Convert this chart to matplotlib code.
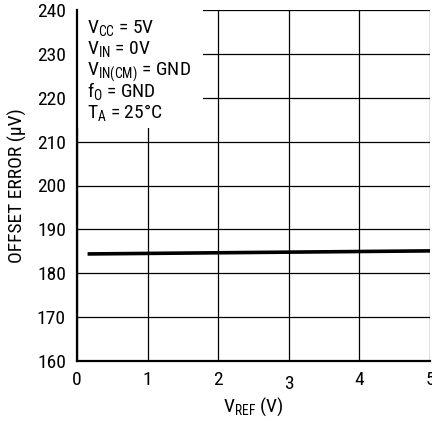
import matplotlib
matplotlib.use("Agg")
import matplotlib.pyplot as plt
from matplotlib.patches import Rectangle

FONT = 'Roboto Condensed'
plt.rcParams['font.family'] = [FONT, 'DejaVu Sans']
plt.rcParams['mathtext.fontset'] = 'custom'
plt.rcParams['mathtext.rm'] = FONT

vref = [0.15, 5.0]
offset = [184.4, 185.1]
x_ticks = [0, 1, 2, 3, 4, 5]
y_ticks = [160, 170, 180, 190, 200, 210, 220, 230, 240]
FS = 14

fig = plt.figure(figsize=(4.32, 4.21), dpi=100)
ax = fig.add_axes([77/432, 1 - 361/421, 353/432, 351/421])
ax.set_xlim(0, 5)
ax.set_ylim(160, 240)
ax.set_xticks(x_ticks)
ax.set_yticks(y_ticks)
ax.grid(True, color='black', linewidth=0.9)
ax.set_axisbelow(True)
for s in ax.spines.values():
    s.set_linewidth(1.6)
    s.set_color('black')
ax.spines['right'].set_visible(False)
ax.spines['top'].set_visible(False)
ax.tick_params(axis='y', length=0, labelsize=FS, pad=8)
ax.tick_params(axis='x', length=0, labelsize=FS, pad=7)
ax.set_xticklabels([str(t) for t in x_ticks])
for lbl in ax.get_xticklabels():
    if lbl.get_text() == '3':
        lbl.set_y(-0.012)
ax.plot(vref, offset, color='black', linewidth=2.6, solid_capstyle='butt', zorder=3)

ax.add_patch(Rectangle((0, 240 - 118/351*80), 126/353*5, 118/351*80,
                       facecolor='white', edgecolor='none', zorder=2.5))
lines = [r'$\mathregular{V_{CC}}$ = 5V',
         r'$\mathregular{V_{IN}}$ = 0V',
         r'$\mathregular{V_{IN(CM)}}$ = GND',
         r'$\mathregular{f_{O}}$ = GND',
         r'$\mathregular{T_{A}}$ = 25°C']
for i, t in enumerate(lines):
    ax.text(10/353*5, 240 - (23 + 21.3*i)/351*80, t, fontsize=FS, va='baseline', ha='left', zorder=4)

ax.set_xlabel(r'$\mathregular{V_{REF}}$ (V)', fontsize=FS, labelpad=2)
ax.set_ylabel('OFFSET ERROR (µV)', fontsize=FS, labelpad=7)
fig.savefig('out.png', dpi=100)
